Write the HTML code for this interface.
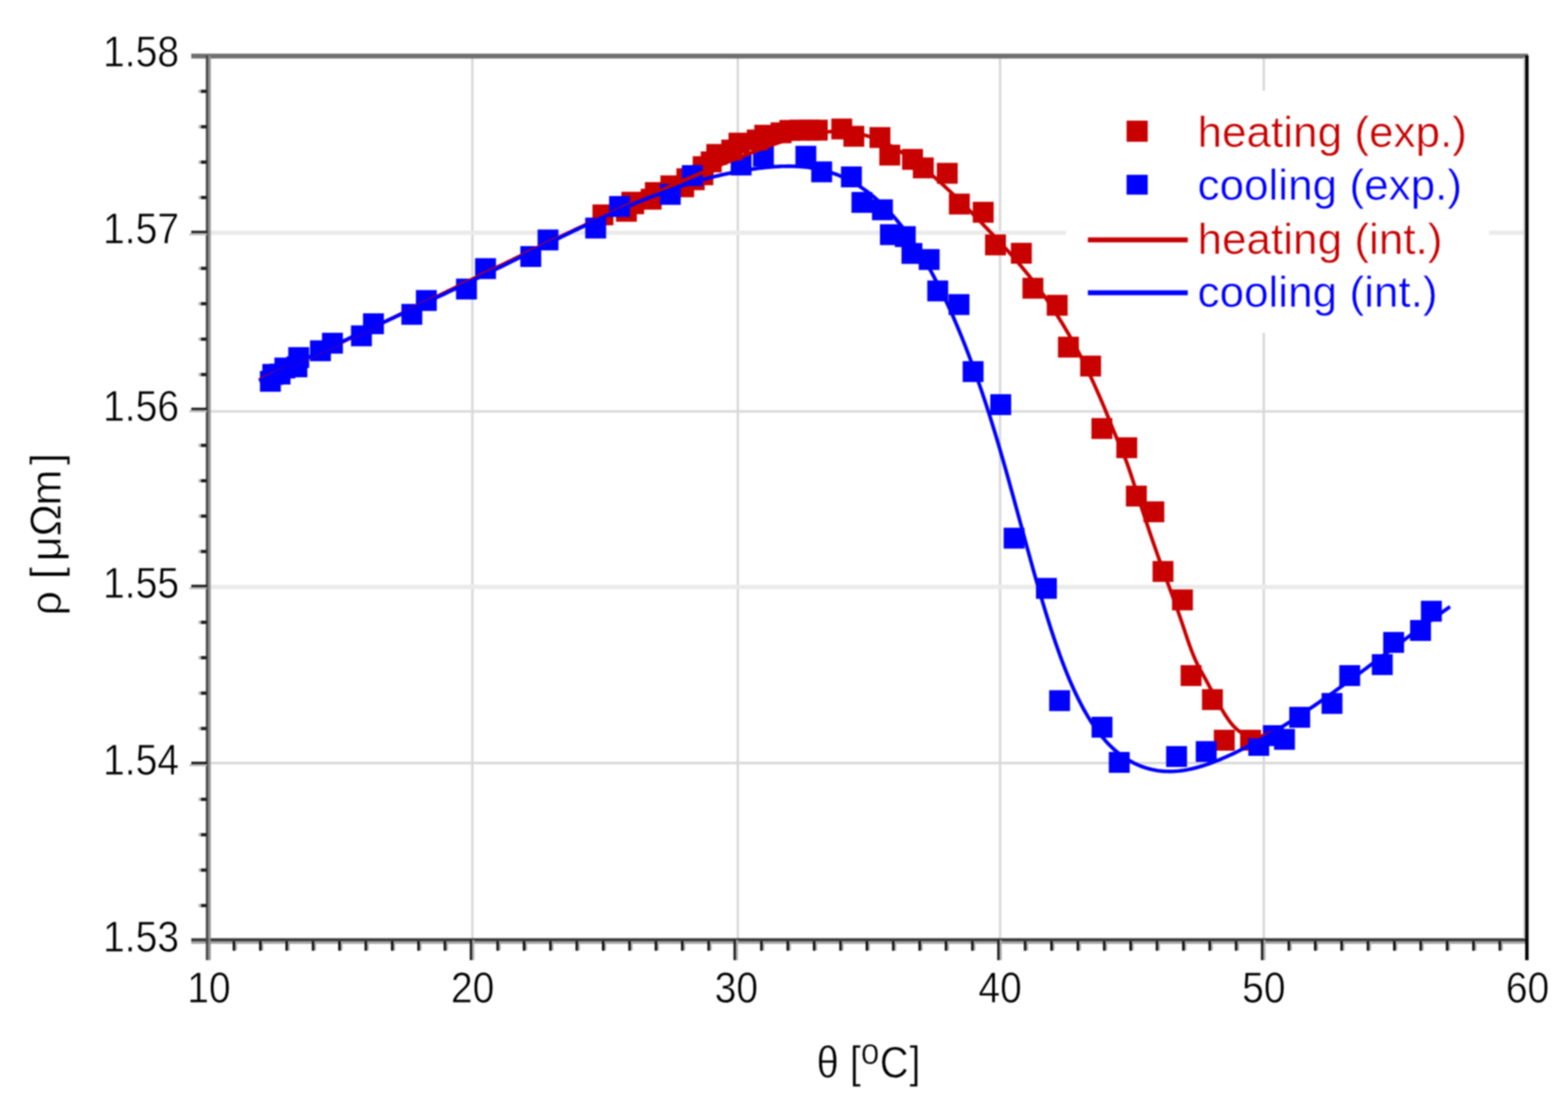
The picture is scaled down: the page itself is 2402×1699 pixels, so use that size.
<!DOCTYPE html>
<html lang="en"><head><meta charset="utf-8"><title>Resistivity vs temperature</title>
<style>
html,body{margin:0;padding:0;background:#fff;}
body{width:2402px;height:1699px;overflow:hidden;}
svg{display:block;}
</style></head><body>
<svg width="2402" height="1699" viewBox="0 0 2402 1699">
<defs><filter id="soft" color-interpolation-filters="sRGB" x="0" y="0" width="2402" height="1699" filterUnits="userSpaceOnUse"><feGaussianBlur stdDeviation="1.1"/></filter></defs>
<rect width="2402" height="1699" fill="#fff"/>
<g filter="url(#soft)">
<rect width="2402" height="1699" fill="#fff"/>
<rect x="721.7" y="88" width="3.8" height="1350" fill="#d9d9d9"/>
<rect x="1128.4" y="88" width="3.8" height="1350" fill="#d9d9d9"/>
<rect x="1530.0" y="88" width="3.8" height="1350" fill="#d9d9d9"/>
<rect x="1934.1" y="88" width="3.8" height="1350" fill="#d9d9d9"/>
<rect x="322" y="353.3" width="2014" height="6.6" fill="#ebebeb"/>
<rect x="322" y="628.4" width="2014" height="3.8" fill="#d9d9d9"/>
<rect x="322" y="896.0" width="2014" height="6.6" fill="#ebebeb"/>
<rect x="322" y="1167.1" width="2014" height="3.8" fill="#d9d9d9"/>
<rect x="1633" y="139" width="648" height="371" fill="#fff"/>
<g id="axes">
<rect x="293" y="82.2" width="2048" height="7.4" fill="#6f6f6f"/>
<rect x="293" y="1437.4" width="2048" height="5" fill="#3a3a3a"/>
<rect x="293" y="1442.4" width="2048" height="3.6" fill="#a4a4a4"/>
<rect x="315.3" y="85" width="4" height="1386" fill="#484848"/>
<rect x="319.3" y="85" width="3.5" height="1386" fill="#909090"/>
<rect x="2333.6" y="88" width="3.4" height="1350" fill="#cfcfcf"/>
<rect x="2336.4" y="85" width="5.2" height="1386" fill="#000"/>
<rect x="307.5" y="137.4" width="9" height="5" fill="#1c1c1c"/>
<rect x="304" y="137.4" width="4" height="5" fill="#bbb"/>
<rect x="307.5" y="191.7" width="9" height="5" fill="#1c1c1c"/>
<rect x="304" y="191.7" width="4" height="5" fill="#bbb"/>
<rect x="307.5" y="245.9" width="9" height="5" fill="#1c1c1c"/>
<rect x="304" y="245.9" width="4" height="5" fill="#bbb"/>
<rect x="307.5" y="300.1" width="9" height="5" fill="#1c1c1c"/>
<rect x="304" y="300.1" width="4" height="5" fill="#bbb"/>
<rect x="293" y="353.5" width="24" height="4" fill="#1e1e1e"/>
<rect x="290" y="357.5" width="27" height="3" fill="#bdbdbd"/>
<rect x="307.5" y="408.6" width="9" height="5" fill="#1c1c1c"/>
<rect x="304" y="408.6" width="4" height="5" fill="#bbb"/>
<rect x="307.5" y="462.8" width="9" height="5" fill="#1c1c1c"/>
<rect x="304" y="462.8" width="4" height="5" fill="#bbb"/>
<rect x="307.5" y="517.1" width="9" height="5" fill="#1c1c1c"/>
<rect x="304" y="517.1" width="4" height="5" fill="#bbb"/>
<rect x="307.5" y="571.3" width="9" height="5" fill="#1c1c1c"/>
<rect x="304" y="571.3" width="4" height="5" fill="#bbb"/>
<rect x="293" y="624.6" width="24" height="4" fill="#1e1e1e"/>
<rect x="290" y="628.6" width="27" height="3" fill="#bdbdbd"/>
<rect x="307.5" y="679.8" width="9" height="5" fill="#1c1c1c"/>
<rect x="304" y="679.8" width="4" height="5" fill="#bbb"/>
<rect x="307.5" y="734.0" width="9" height="5" fill="#1c1c1c"/>
<rect x="304" y="734.0" width="4" height="5" fill="#bbb"/>
<rect x="307.5" y="788.2" width="9" height="5" fill="#1c1c1c"/>
<rect x="304" y="788.2" width="4" height="5" fill="#bbb"/>
<rect x="307.5" y="842.4" width="9" height="5" fill="#1c1c1c"/>
<rect x="304" y="842.4" width="4" height="5" fill="#bbb"/>
<rect x="293" y="895.8" width="24" height="4" fill="#1e1e1e"/>
<rect x="290" y="899.8" width="27" height="3" fill="#bdbdbd"/>
<rect x="307.5" y="950.9" width="9" height="5" fill="#1c1c1c"/>
<rect x="304" y="950.9" width="4" height="5" fill="#bbb"/>
<rect x="307.5" y="1005.1" width="9" height="5" fill="#1c1c1c"/>
<rect x="304" y="1005.1" width="4" height="5" fill="#bbb"/>
<rect x="307.5" y="1059.4" width="9" height="5" fill="#1c1c1c"/>
<rect x="304" y="1059.4" width="4" height="5" fill="#bbb"/>
<rect x="307.5" y="1113.6" width="9" height="5" fill="#1c1c1c"/>
<rect x="304" y="1113.6" width="4" height="5" fill="#bbb"/>
<rect x="293" y="1166.9" width="24" height="4" fill="#1e1e1e"/>
<rect x="290" y="1170.9" width="27" height="3" fill="#bdbdbd"/>
<rect x="307.5" y="1222.1" width="9" height="5" fill="#1c1c1c"/>
<rect x="304" y="1222.1" width="4" height="5" fill="#bbb"/>
<rect x="307.5" y="1276.3" width="9" height="5" fill="#1c1c1c"/>
<rect x="304" y="1276.3" width="4" height="5" fill="#bbb"/>
<rect x="307.5" y="1330.5" width="9" height="5" fill="#1c1c1c"/>
<rect x="304" y="1330.5" width="4" height="5" fill="#bbb"/>
<rect x="307.5" y="1384.8" width="9" height="5" fill="#1c1c1c"/>
<rect x="304" y="1384.8" width="4" height="5" fill="#bbb"/>
<rect x="356.4" y="1442" width="4.2" height="14.5" fill="#141414"/>
<rect x="360.4" y="1442" width="2.6" height="14" fill="#aaa"/>
<rect x="396.8" y="1442" width="4.2" height="14.5" fill="#141414"/>
<rect x="400.8" y="1442" width="2.6" height="14" fill="#aaa"/>
<rect x="437.2" y="1442" width="4.2" height="14.5" fill="#141414"/>
<rect x="441.2" y="1442" width="2.6" height="14" fill="#aaa"/>
<rect x="477.6" y="1442" width="4.2" height="14.5" fill="#141414"/>
<rect x="481.6" y="1442" width="2.6" height="14" fill="#aaa"/>
<rect x="518.0" y="1442" width="4.2" height="14.5" fill="#141414"/>
<rect x="522.0" y="1442" width="2.6" height="14" fill="#aaa"/>
<rect x="558.4" y="1442" width="4.2" height="14.5" fill="#141414"/>
<rect x="562.4" y="1442" width="2.6" height="14" fill="#aaa"/>
<rect x="598.8" y="1442" width="4.2" height="14.5" fill="#141414"/>
<rect x="602.8" y="1442" width="2.6" height="14" fill="#aaa"/>
<rect x="639.2" y="1442" width="4.2" height="14.5" fill="#141414"/>
<rect x="643.2" y="1442" width="2.6" height="14" fill="#aaa"/>
<rect x="679.6" y="1442" width="4.2" height="14.5" fill="#141414"/>
<rect x="683.6" y="1442" width="2.6" height="14" fill="#aaa"/>
<rect x="719.6" y="1440" width="4" height="31" fill="#1e1e1e"/>
<rect x="723.6" y="1440" width="3" height="31" fill="#b0b0b0"/>
<rect x="760.4" y="1442" width="4.2" height="14.5" fill="#141414"/>
<rect x="764.4" y="1442" width="2.6" height="14" fill="#aaa"/>
<rect x="800.8" y="1442" width="4.2" height="14.5" fill="#141414"/>
<rect x="804.8" y="1442" width="2.6" height="14" fill="#aaa"/>
<rect x="841.2" y="1442" width="4.2" height="14.5" fill="#141414"/>
<rect x="845.2" y="1442" width="2.6" height="14" fill="#aaa"/>
<rect x="881.6" y="1442" width="4.2" height="14.5" fill="#141414"/>
<rect x="885.6" y="1442" width="2.6" height="14" fill="#aaa"/>
<rect x="922.0" y="1442" width="4.2" height="14.5" fill="#141414"/>
<rect x="926.0" y="1442" width="2.6" height="14" fill="#aaa"/>
<rect x="962.4" y="1442" width="4.2" height="14.5" fill="#141414"/>
<rect x="966.4" y="1442" width="2.6" height="14" fill="#aaa"/>
<rect x="1002.8" y="1442" width="4.2" height="14.5" fill="#141414"/>
<rect x="1006.8" y="1442" width="2.6" height="14" fill="#aaa"/>
<rect x="1043.2" y="1442" width="4.2" height="14.5" fill="#141414"/>
<rect x="1047.2" y="1442" width="2.6" height="14" fill="#aaa"/>
<rect x="1083.6" y="1442" width="4.2" height="14.5" fill="#141414"/>
<rect x="1087.6" y="1442" width="2.6" height="14" fill="#aaa"/>
<rect x="1123.6" y="1440" width="4" height="31" fill="#1e1e1e"/>
<rect x="1127.6" y="1440" width="3" height="31" fill="#b0b0b0"/>
<rect x="1164.4" y="1442" width="4.2" height="14.5" fill="#141414"/>
<rect x="1168.4" y="1442" width="2.6" height="14" fill="#aaa"/>
<rect x="1204.8" y="1442" width="4.2" height="14.5" fill="#141414"/>
<rect x="1208.8" y="1442" width="2.6" height="14" fill="#aaa"/>
<rect x="1245.2" y="1442" width="4.2" height="14.5" fill="#141414"/>
<rect x="1249.2" y="1442" width="2.6" height="14" fill="#aaa"/>
<rect x="1285.6" y="1442" width="4.2" height="14.5" fill="#141414"/>
<rect x="1289.6" y="1442" width="2.6" height="14" fill="#aaa"/>
<rect x="1326.0" y="1442" width="4.2" height="14.5" fill="#141414"/>
<rect x="1330.0" y="1442" width="2.6" height="14" fill="#aaa"/>
<rect x="1366.4" y="1442" width="4.2" height="14.5" fill="#141414"/>
<rect x="1370.4" y="1442" width="2.6" height="14" fill="#aaa"/>
<rect x="1406.8" y="1442" width="4.2" height="14.5" fill="#141414"/>
<rect x="1410.8" y="1442" width="2.6" height="14" fill="#aaa"/>
<rect x="1447.2" y="1442" width="4.2" height="14.5" fill="#141414"/>
<rect x="1451.2" y="1442" width="2.6" height="14" fill="#aaa"/>
<rect x="1487.6" y="1442" width="4.2" height="14.5" fill="#141414"/>
<rect x="1491.6" y="1442" width="2.6" height="14" fill="#aaa"/>
<rect x="1527.6" y="1440" width="4" height="31" fill="#1e1e1e"/>
<rect x="1531.6" y="1440" width="3" height="31" fill="#b0b0b0"/>
<rect x="1568.4" y="1442" width="4.2" height="14.5" fill="#141414"/>
<rect x="1572.4" y="1442" width="2.6" height="14" fill="#aaa"/>
<rect x="1608.8" y="1442" width="4.2" height="14.5" fill="#141414"/>
<rect x="1612.8" y="1442" width="2.6" height="14" fill="#aaa"/>
<rect x="1649.2" y="1442" width="4.2" height="14.5" fill="#141414"/>
<rect x="1653.2" y="1442" width="2.6" height="14" fill="#aaa"/>
<rect x="1689.6" y="1442" width="4.2" height="14.5" fill="#141414"/>
<rect x="1693.6" y="1442" width="2.6" height="14" fill="#aaa"/>
<rect x="1730.0" y="1442" width="4.2" height="14.5" fill="#141414"/>
<rect x="1734.0" y="1442" width="2.6" height="14" fill="#aaa"/>
<rect x="1770.4" y="1442" width="4.2" height="14.5" fill="#141414"/>
<rect x="1774.4" y="1442" width="2.6" height="14" fill="#aaa"/>
<rect x="1810.8" y="1442" width="4.2" height="14.5" fill="#141414"/>
<rect x="1814.8" y="1442" width="2.6" height="14" fill="#aaa"/>
<rect x="1851.2" y="1442" width="4.2" height="14.5" fill="#141414"/>
<rect x="1855.2" y="1442" width="2.6" height="14" fill="#aaa"/>
<rect x="1891.6" y="1442" width="4.2" height="14.5" fill="#141414"/>
<rect x="1895.6" y="1442" width="2.6" height="14" fill="#aaa"/>
<rect x="1931.6" y="1440" width="4" height="31" fill="#1e1e1e"/>
<rect x="1935.6" y="1440" width="3" height="31" fill="#b0b0b0"/>
<rect x="1972.4" y="1442" width="4.2" height="14.5" fill="#141414"/>
<rect x="1976.4" y="1442" width="2.6" height="14" fill="#aaa"/>
<rect x="2012.8" y="1442" width="4.2" height="14.5" fill="#141414"/>
<rect x="2016.8" y="1442" width="2.6" height="14" fill="#aaa"/>
<rect x="2053.2" y="1442" width="4.2" height="14.5" fill="#141414"/>
<rect x="2057.2" y="1442" width="2.6" height="14" fill="#aaa"/>
<rect x="2093.6" y="1442" width="4.2" height="14.5" fill="#141414"/>
<rect x="2097.6" y="1442" width="2.6" height="14" fill="#aaa"/>
<rect x="2134.0" y="1442" width="4.2" height="14.5" fill="#141414"/>
<rect x="2138.0" y="1442" width="2.6" height="14" fill="#aaa"/>
<rect x="2174.4" y="1442" width="4.2" height="14.5" fill="#141414"/>
<rect x="2178.4" y="1442" width="2.6" height="14" fill="#aaa"/>
<rect x="2214.8" y="1442" width="4.2" height="14.5" fill="#141414"/>
<rect x="2218.8" y="1442" width="2.6" height="14" fill="#aaa"/>
<rect x="2255.2" y="1442" width="4.2" height="14.5" fill="#141414"/>
<rect x="2259.2" y="1442" width="2.6" height="14" fill="#aaa"/>
<rect x="2295.6" y="1442" width="4.2" height="14.5" fill="#141414"/>
<rect x="2299.6" y="1442" width="2.6" height="14" fill="#aaa"/>
</g>
<g fill="#0000ff"><rect x="1119.3" y="236.8" width="32.0" height="32.0"/><rect x="1153.5" y="223.3" width="32.0" height="32.0"/></g>
<g fill="#c80000"><rect x="907.6" y="313.2" width="32.0" height="32.0"/><rect x="943.6" y="307.7" width="32.0" height="32.0"/><rect x="954.7" y="296.2" width="32.0" height="32.0"/><rect x="951.9" y="293.8" width="32.0" height="32.0"/><rect x="981.5" y="289.2" width="32.0" height="32.0"/><rect x="987.9" y="279.0" width="32.0" height="32.0"/><rect x="1011.7" y="268.7" width="32.0" height="32.0"/><rect x="1031.3" y="270.2" width="32.0" height="32.0"/><rect x="1036.2" y="257.8" width="32.0" height="32.0"/><rect x="1047.5" y="259.4" width="32.0" height="32.0"/><rect x="1060.7" y="251.8" width="32.0" height="32.0"/><rect x="1061.2" y="239.3" width="32.0" height="32.0"/><rect x="1073.5" y="232.0" width="32.0" height="32.0"/><rect x="1082.0" y="220.6" width="32.0" height="32.0"/><rect x="1105.0" y="213.9" width="32.0" height="32.0"/><rect x="1116.0" y="203.3" width="32.0" height="32.0"/><rect x="1144.0" y="198.5" width="32.0" height="32.0"/><rect x="1155.5" y="191.2" width="32.0" height="32.0"/><rect x="1180.5" y="187.5" width="32.0" height="32.0"/><rect x="1194.0" y="183.8" width="32.0" height="32.0"/><rect x="1209.0" y="183.4" width="32.0" height="32.0"/><rect x="1224.0" y="183.4" width="32.0" height="32.0"/><rect x="1236.0" y="183.4" width="32.0" height="32.0"/><rect x="1273.5" y="181.6" width="32.0" height="32.0"/><rect x="1292.0" y="192.8" width="32.0" height="32.0"/><rect x="1332.0" y="194.7" width="32.0" height="32.0"/><rect x="1347.0" y="221.6" width="32.0" height="32.0"/><rect x="1381.9" y="228.2" width="32.0" height="32.0"/><rect x="1398.4" y="241.2" width="32.0" height="32.0"/><rect x="1435.1" y="249.5" width="32.0" height="32.0"/><rect x="1453.6" y="296.6" width="32.0" height="32.0"/><rect x="1490.2" y="309.2" width="32.0" height="32.0"/><rect x="1509.0" y="359.2" width="32.0" height="32.0"/><rect x="1548.6" y="372.0" width="32.0" height="32.0"/><rect x="1566.3" y="425.6" width="32.0" height="32.0"/><rect x="1603.5" y="451.7" width="32.0" height="32.0"/><rect x="1620.7" y="515.8" width="32.0" height="32.0"/><rect x="1654.7" y="544.8" width="32.0" height="32.0"/><rect x="1672.0" y="640.5" width="32.0" height="32.0"/><rect x="1710.1" y="669.9" width="32.0" height="32.0"/><rect x="1724.8" y="744.0" width="32.0" height="32.0"/><rect x="1751.6" y="768.1" width="32.0" height="32.0"/><rect x="1765.6" y="859.5" width="32.0" height="32.0"/><rect x="1795.4" y="903.1" width="32.0" height="32.0"/><rect x="1808.6" y="1019.0" width="32.0" height="32.0"/><rect x="1841.3" y="1055.8" width="32.0" height="32.0"/><rect x="1859.5" y="1118.0" width="32.0" height="32.0"/><rect x="1899.7" y="1118.0" width="32.0" height="32.0"/></g>
<g fill="#0000ff"><rect x="398.2" y="568.2" width="32.0" height="32.0"/><rect x="401.9" y="557.6" width="32.0" height="32.0"/><rect x="413.0" y="557.1" width="32.0" height="32.0"/><rect x="420.4" y="547.8" width="32.0" height="32.0"/><rect x="438.8" y="546.0" width="32.0" height="32.0"/><rect x="441.6" y="531.8" width="32.0" height="32.0"/><rect x="474.9" y="521.4" width="32.0" height="32.0"/><rect x="493.3" y="509.8" width="32.0" height="32.0"/><rect x="537.7" y="498.5" width="32.0" height="32.0"/><rect x="556.1" y="480.0" width="32.0" height="32.0"/><rect x="614.9" y="465.6" width="32.0" height="32.0"/><rect x="637.1" y="444.4" width="32.0" height="32.0"/><rect x="698.6" y="426.8" width="32.0" height="32.0"/><rect x="727.8" y="395.5" width="32.0" height="32.0"/><rect x="797.1" y="377.0" width="32.0" height="32.0"/><rect x="823.5" y="351.6" width="32.0" height="32.0"/><rect x="896.5" y="333.4" width="32.0" height="32.0"/><rect x="933.1" y="300.3" width="32.0" height="32.0"/><rect x="1010.8" y="281.8" width="32.0" height="32.0"/><rect x="1044.5" y="253.0" width="32.0" height="32.0"/><rect x="1218.5" y="223.4" width="32.0" height="32.0"/><rect x="1242.7" y="247.3" width="32.0" height="32.0"/><rect x="1288.3" y="255.0" width="32.0" height="32.0"/><rect x="1304.4" y="294.1" width="32.0" height="32.0"/><rect x="1335.8" y="305.4" width="32.0" height="32.0"/><rect x="1348.0" y="343.5" width="32.0" height="32.0"/><rect x="1370.8" y="346.5" width="32.0" height="32.0"/><rect x="1381.0" y="372.3" width="32.0" height="32.0"/><rect x="1407.4" y="381.6" width="32.0" height="32.0"/><rect x="1420.5" y="429.7" width="32.0" height="32.0"/><rect x="1453.1" y="450.6" width="32.0" height="32.0"/><rect x="1474.7" y="553.3" width="32.0" height="32.0"/><rect x="1517.0" y="603.9" width="32.0" height="32.0"/><rect x="1537.5" y="808.5" width="32.0" height="32.0"/><rect x="1587.0" y="885.4" width="32.0" height="32.0"/><rect x="1607.2" y="1057.4" width="32.0" height="32.0"/><rect x="1672.2" y="1098.1" width="32.0" height="32.0"/><rect x="1698.6" y="1152.0" width="32.0" height="32.0"/><rect x="1786.4" y="1143.0" width="32.0" height="32.0"/><rect x="1831.8" y="1135.4" width="32.0" height="32.0"/><rect x="1912.3" y="1126.0" width="32.0" height="32.0"/><rect x="1934.7" y="1111.0" width="32.0" height="32.0"/><rect x="1951.7" y="1116.7" width="32.0" height="32.0"/><rect x="1975.0" y="1082.9" width="32.0" height="32.0"/><rect x="2024.5" y="1061.7" width="32.0" height="32.0"/><rect x="2051.6" y="1019.0" width="32.0" height="32.0"/><rect x="2101.5" y="1002.2" width="32.0" height="32.0"/><rect x="2118.9" y="968.2" width="32.0" height="32.0"/><rect x="2160.1" y="949.9" width="32.0" height="32.0"/><rect x="2176.7" y="920.4" width="32.0" height="32.0"/></g>
<path d="M397.0,581.8 L400.0,580.5 L403.0,579.2 L406.0,577.9 L409.0,576.5 L412.0,575.2 L415.0,573.9 L418.0,572.6 L421.0,571.2 L424.0,569.9 L427.0,568.6 L430.0,567.2 L433.0,565.9 L436.0,564.5 L439.0,563.2 L442.0,561.8 L445.0,560.5 L448.0,559.1 L451.0,557.8 L454.0,556.4 L457.0,555.0 L460.0,553.7 L463.0,552.3 L466.0,550.9 L469.0,549.6 L472.0,548.2 L475.0,546.8 L478.0,545.4 L481.0,544.0 L484.0,542.7 L487.0,541.3 L490.0,539.9 L493.0,538.5 L496.0,537.1 L499.0,535.7 L502.0,534.3 L505.0,532.9 L508.0,531.5 L511.0,530.1 L514.0,528.7 L517.0,527.3 L520.0,525.9 L523.0,524.5 L526.0,523.1 L529.0,521.7 L532.0,520.3 L535.0,518.8 L538.0,517.4 L541.0,516.0 L544.0,514.6 L547.0,513.2 L550.0,511.7 L553.0,510.3 L556.0,508.9 L559.0,507.5 L562.0,506.0 L565.0,504.6 L568.0,503.2 L571.0,501.7 L574.0,500.3 L577.0,498.9 L580.0,497.4 L583.0,496.0 L586.0,494.6 L589.0,493.1 L592.0,491.7 L595.0,490.2 L598.0,488.8 L601.0,487.4 L604.0,485.9 L607.0,484.5 L610.0,483.0 L613.0,481.6 L616.0,480.1 L619.0,478.7 L622.0,477.2 L625.0,475.8 L628.0,474.3 L631.0,472.9 L634.0,471.4 L637.0,470.0 L640.0,468.5 L643.0,467.0 L646.0,465.6 L649.0,464.1 L652.0,462.7 L655.0,461.2 L658.0,459.8 L661.0,458.3 L664.0,456.8 L667.0,455.4 L670.0,453.9 L673.0,452.5 L676.0,451.0 L679.0,449.5 L682.0,448.1 L685.0,446.6 L688.0,445.1 L691.0,443.7 L694.0,442.2 L697.0,440.8 L700.0,439.3 L703.0,437.8 L706.0,436.4 L709.0,434.9 L712.0,433.4 L715.0,432.0 L718.0,430.5 L721.0,429.1 L724.0,427.6 L727.0,426.1 L730.0,424.7 L733.0,423.2 L736.0,421.7 L739.0,420.3 L742.0,418.8 L745.0,417.4 L748.0,415.9 L751.0,414.4 L754.0,413.0 L757.0,411.5 L760.0,410.1 L763.0,408.6 L766.0,407.1 L769.0,405.7 L772.0,404.2 L775.0,402.8 L778.0,401.3 L781.0,399.9 L784.0,398.4 L787.0,396.9 L790.0,395.5 L793.0,394.0 L796.0,392.6 L799.0,391.1 L802.0,389.7 L805.0,388.2 L808.0,386.8 L811.0,385.3 L814.0,383.9 L817.0,382.4 L820.0,381.0 L823.0,379.6 L826.0,378.1 L829.0,376.7 L832.0,375.2 L835.0,373.8 L838.0,372.3 L841.0,370.9 L844.0,369.5 L847.0,368.0 L850.0,366.6 L853.0,365.2 L856.0,363.7 L859.0,362.3 L862.0,360.9 L865.0,359.5 L868.0,358.0 L871.0,356.6 L874.0,355.2 L877.0,353.8 L880.0,352.3 L883.0,350.9 L886.0,349.5 L889.0,348.1 L892.0,346.7 L895.0,345.3 L898.0,343.9 L901.0,342.4 L904.0,341.0 L907.0,339.6 L910.0,338.2 L913.0,336.8 L916.0,335.4 L919.0,334.0 L922.0,332.6 L925.0,331.2 L928.0,329.9 L931.0,328.5 L934.0,327.1 L937.0,325.7 L940.0,324.3 L943.0,322.9 L946.0,321.5 L949.0,320.2 L952.0,318.8 L955.0,317.4 L958.0,316.1 L961.0,314.7 L964.0,313.3 L967.0,312.0 L970.0,310.6 L973.0,309.2 L976.0,307.9 L979.0,306.5 L982.0,305.2 L985.0,303.8 L988.0,302.5 L991.0,301.1 L994.0,299.8 L997.0,298.5 L1000.0,297.1 L1003.0,295.8 L1006.0,294.5 L1009.0,293.1 L1012.0,291.8 L1015.0,290.5 L1018.0,289.2 L1021.0,287.8 L1024.0,286.5 L1027.0,285.2 L1030.0,283.9 L1033.0,282.6 L1036.0,281.3 L1039.0,280.0 L1042.0,278.7 L1045.0,277.4 L1048.0,276.1 L1051.0,274.8 L1054.0,273.6 L1057.0,272.3 L1060.0,271.0 L1063.0,269.7 L1066.0,268.5 L1069.0,267.2 L1072.0,265.9 L1075.0,264.7 L1078.0,263.4 L1081.0,262.2 L1084.0,260.9 L1087.0,259.7 L1090.0,258.4 L1093.0,257.2 L1096.0,255.9 L1099.0,254.7 L1102.0,253.5 L1105.0,252.2 L1108.0,251.0 L1111.0,249.8 L1114.0,248.6 L1117.0,247.4 L1120.0,246.2 L1123.0,245.0 L1126.0,243.8 L1129.0,242.6 L1132.0,241.4 L1135.0,240.2 L1138.0,239.0 L1141.0,237.8 L1144.0,236.6 L1147.0,235.5 L1150.0,234.3 L1153.0,233.1 L1156.0,232.0 L1159.0,230.8 L1162.0,229.7 L1165.0,228.5 L1168.0,227.4 L1171.0,226.3 L1174.0,225.2 L1177.0,224.1 L1180.0,223.0 L1183.0,221.9 L1186.0,220.9 L1189.0,219.8 L1192.0,218.8 L1195.0,217.8 L1198.0,216.8 L1201.0,215.9 L1204.0,214.9 L1207.0,214.0 L1210.0,213.1 L1213.0,212.2 L1216.0,211.4 L1219.0,210.6 L1222.0,209.8 L1225.0,209.0 L1228.0,208.3 L1231.0,207.6 L1234.0,206.9 L1237.0,206.3 L1240.0,205.7 L1243.0,205.1 L1246.0,204.6 L1249.0,204.1 L1252.0,203.6 L1255.0,203.2 L1258.0,202.8 L1261.0,202.5 L1264.0,202.2 L1267.0,202.0 L1270.0,201.8 L1273.0,201.6 L1276.0,201.5 L1279.0,201.4 L1282.0,201.4 L1285.0,201.4 L1288.0,201.5 L1291.0,201.7 L1294.0,201.9 L1297.0,202.1 L1300.0,202.4 L1303.0,202.8 L1306.0,203.2 L1309.0,203.6 L1312.0,204.2 L1315.0,204.8 L1318.0,205.4 L1321.0,206.1 L1324.0,206.9 L1327.0,207.7 L1330.0,208.6 L1333.0,209.6 L1336.0,210.6 L1339.0,211.7 L1342.0,212.9 L1345.0,214.1 L1348.0,215.4 L1351.0,216.7 L1354.0,218.1 L1357.0,219.6 L1360.0,221.1 L1363.0,222.7 L1366.0,224.3 L1369.0,226.0 L1372.0,227.7 L1375.0,229.5 L1378.0,231.3 L1381.0,233.2 L1384.0,235.2 L1387.0,237.1 L1390.0,239.2 L1393.0,241.2 L1396.0,243.4 L1399.0,245.5 L1402.0,247.7 L1405.0,250.0 L1408.0,252.3 L1411.0,254.6 L1414.0,257.0 L1417.0,259.4 L1420.0,261.8 L1423.0,264.3 L1426.0,266.8 L1429.0,269.4 L1432.0,272.0 L1435.0,274.6 L1438.0,277.3 L1441.0,280.0 L1444.0,282.7 L1447.0,285.4 L1450.0,288.2 L1453.0,291.0 L1456.0,293.8 L1459.0,296.7 L1462.0,299.5 L1465.0,302.4 L1468.0,305.4 L1471.0,308.3 L1474.0,311.3 L1477.0,314.2 L1480.0,317.2 L1483.0,320.3 L1486.0,323.3 L1489.0,326.4 L1492.0,329.4 L1495.0,332.5 L1498.0,335.6 L1501.0,338.7 L1504.0,341.8 L1507.0,345.0 L1510.0,348.1 L1513.0,351.2 L1516.0,354.4 L1519.0,357.5 L1522.0,360.7 L1525.0,363.9 L1528.0,367.1 L1531.0,370.3 L1534.0,373.6 L1537.0,376.8 L1540.0,380.1 L1543.0,383.4 L1546.0,386.8 L1549.0,390.1 L1552.0,393.5 L1555.0,397.0 L1558.0,400.4 L1561.0,403.9 L1564.0,407.5 L1567.0,411.1 L1570.0,414.7 L1573.0,418.4 L1576.0,422.1 L1579.0,425.9 L1582.0,429.7 L1585.0,433.6 L1588.0,437.6 L1591.0,441.6 L1594.0,445.6 L1597.0,449.8 L1600.0,454.0 L1603.0,458.2 L1606.0,462.6 L1609.0,467.0 L1612.0,471.5 L1615.0,476.0 L1618.0,480.6 L1621.0,485.4 L1624.0,490.2 L1627.0,495.0 L1630.0,500.0 L1633.0,505.1 L1636.0,510.2 L1639.0,515.4 L1642.0,520.8 L1645.0,526.2 L1648.0,531.7 L1651.0,537.4 L1654.0,543.1 L1657.0,548.9 L1660.0,554.9 L1663.0,560.9 L1666.0,567.1 L1669.0,573.4 L1672.0,579.7 L1675.0,586.2 L1678.0,592.8 L1681.0,599.6 L1684.0,606.4 L1687.0,613.4 L1690.0,620.5 L1693.0,627.7 L1696.0,635.1 L1699.0,642.6 L1702.0,650.1 L1705.0,657.5 L1708.0,664.9 L1711.0,672.1 L1714.0,679.1 L1717.0,686.1 L1720.0,693.2 L1723.0,700.5 L1726.0,708.3 L1729.0,716.7 L1732.0,725.5 L1735.0,734.7 L1738.0,744.0 L1741.0,753.3 L1744.0,762.7 L1747.0,772.0 L1750.0,781.3 L1753.0,790.5 L1756.0,799.6 L1759.0,808.7 L1762.0,817.5 L1765.0,826.3 L1768.0,835.0 L1771.0,843.6 L1774.0,852.1 L1777.0,860.5 L1780.0,868.9 L1783.0,877.2 L1786.0,885.4 L1789.0,893.6 L1792.0,901.7 L1795.0,909.8 L1798.0,918.0 L1801.0,926.3 L1804.0,934.7 L1807.0,943.4 L1810.0,952.2 L1813.0,961.2 L1816.0,970.2 L1819.0,979.1 L1822.0,987.7 L1825.0,995.9 L1828.0,1003.6 L1831.0,1010.6 L1834.0,1017.0 L1837.0,1022.9 L1840.0,1028.4 L1843.0,1033.8 L1846.0,1039.2 L1849.0,1044.7 L1852.0,1050.3 L1855.0,1056.0 L1858.0,1061.7 L1861.0,1067.3 L1864.0,1072.9 L1867.0,1078.4 L1870.0,1083.8 L1873.0,1088.9 L1876.0,1093.9 L1879.0,1098.5 L1882.0,1102.9 L1885.0,1106.9 L1888.0,1110.6 L1891.0,1113.8 L1894.0,1116.7 L1897.0,1119.3 L1900.0,1121.5 L1903.0,1123.4 L1906.0,1124.9 L1909.0,1126.2 L1912.0,1127.2 L1915.0,1128.0 L1918.0,1128.5 L1921.0,1128.7 L1924.0,1128.7 L1927.0,1128.5 L1930.0,1128.1 L1933.0,1127.5 L1936.0,1126.8 L1939.0,1125.8 L1942.0,1124.8 L1945.0,1123.6 L1948.0,1122.2 L1951.0,1120.8 L1952.0,1120.3" fill="none" stroke="#c80000" stroke-width="5.6" stroke-linejoin="round"/>
<path d="M397.0,583.7 L400.0,582.2 L403.0,580.8 L406.0,579.3 L409.0,577.9 L412.0,576.4 L415.0,575.0 L418.0,573.5 L421.0,572.1 L424.0,570.6 L427.0,569.2 L430.0,567.7 L433.0,566.3 L436.0,564.9 L439.0,563.4 L442.0,562.0 L445.0,560.6 L448.0,559.1 L451.0,557.7 L454.0,556.3 L457.0,554.9 L460.0,553.4 L463.0,552.0 L466.0,550.6 L469.0,549.2 L472.0,547.8 L475.0,546.4 L478.0,544.9 L481.0,543.5 L484.0,542.1 L487.0,540.7 L490.0,539.3 L493.0,537.9 L496.0,536.5 L499.0,535.1 L502.0,533.7 L505.0,532.3 L508.0,530.9 L511.0,529.5 L514.0,528.1 L517.0,526.7 L520.0,525.3 L523.0,523.9 L526.0,522.5 L529.0,521.1 L532.0,519.7 L535.0,518.3 L538.0,516.9 L541.0,515.5 L544.0,514.1 L547.0,512.7 L550.0,511.3 L553.0,509.9 L556.0,508.5 L559.0,507.1 L562.0,505.7 L565.0,504.3 L568.0,502.9 L571.0,501.5 L574.0,500.1 L577.0,498.7 L580.0,497.3 L583.0,495.9 L586.0,494.5 L589.0,493.2 L592.0,491.8 L595.0,490.4 L598.0,489.0 L601.0,487.6 L604.0,486.2 L607.0,484.8 L610.0,483.4 L613.0,482.0 L616.0,480.6 L619.0,479.2 L622.0,477.8 L625.0,476.4 L628.0,475.0 L631.0,473.6 L634.0,472.2 L637.0,470.8 L640.0,469.4 L643.0,468.0 L646.0,466.6 L649.0,465.2 L652.0,463.8 L655.0,462.4 L658.0,461.0 L661.0,459.6 L664.0,458.2 L667.0,456.7 L670.0,455.3 L673.0,453.9 L676.0,452.5 L679.0,451.1 L682.0,449.7 L685.0,448.3 L688.0,446.8 L691.0,445.4 L694.0,444.0 L697.0,442.6 L700.0,441.2 L703.0,439.7 L706.0,438.3 L709.0,436.9 L712.0,435.4 L715.0,434.0 L718.0,432.6 L721.0,431.1 L724.0,429.7 L727.0,428.3 L730.0,426.8 L733.0,425.4 L736.0,423.9 L739.0,422.5 L742.0,421.0 L745.0,419.6 L748.0,418.1 L751.0,416.7 L754.0,415.2 L757.0,413.8 L760.0,412.3 L763.0,410.8 L766.0,409.4 L769.0,407.9 L772.0,406.4 L775.0,405.0 L778.0,403.5 L781.0,402.0 L784.0,400.5 L787.0,399.0 L790.0,397.6 L793.0,396.1 L796.0,394.6 L799.0,393.1 L802.0,391.6 L805.0,390.1 L808.0,388.7 L811.0,387.2 L814.0,385.7 L817.0,384.2 L820.0,382.7 L823.0,381.2 L826.0,379.7 L829.0,378.3 L832.0,376.8 L835.0,375.3 L838.0,373.8 L841.0,372.3 L844.0,370.9 L847.0,369.4 L850.0,367.9 L853.0,366.4 L856.0,365.0 L859.0,363.5 L862.0,362.0 L865.0,360.6 L868.0,359.1 L871.0,357.7 L874.0,356.2 L877.0,354.8 L880.0,353.3 L883.0,351.9 L886.0,350.5 L889.0,349.0 L892.0,347.6 L895.0,346.2 L898.0,344.8 L901.0,343.4 L904.0,341.9 L907.0,340.5 L910.0,339.1 L913.0,337.8 L916.0,336.4 L919.0,335.0 L922.0,333.6 L925.0,332.3 L928.0,330.9 L931.0,329.5 L934.0,328.2 L937.0,326.9 L940.0,325.5 L943.0,324.2 L946.0,322.9 L949.0,321.6 L952.0,320.3 L955.0,319.0 L958.0,317.7 L961.0,316.4 L964.0,315.1 L967.0,313.9 L970.0,312.6 L973.0,311.4 L976.0,310.2 L979.0,308.9 L982.0,307.7 L985.0,306.5 L988.0,305.3 L991.0,304.1 L994.0,303.0 L997.0,301.8 L1000.0,300.6 L1003.0,299.5 L1006.0,298.4 L1009.0,297.3 L1012.0,296.1 L1015.0,295.0 L1018.0,294.0 L1021.0,292.9 L1024.0,291.8 L1027.0,290.8 L1030.0,289.7 L1033.0,288.7 L1036.0,287.7 L1039.0,286.7 L1042.0,285.7 L1045.0,284.7 L1048.0,283.7 L1051.0,282.8 L1054.0,281.9 L1057.0,280.9 L1060.0,280.0 L1063.0,279.1 L1066.0,278.2 L1069.0,277.4 L1072.0,276.5 L1075.0,275.7 L1078.0,274.8 L1081.0,274.0 L1084.0,273.2 L1087.0,272.4 L1090.0,271.6 L1093.0,270.9 L1096.0,270.1 L1099.0,269.4 L1102.0,268.7 L1105.0,268.0 L1108.0,267.3 L1111.0,266.7 L1114.0,266.0 L1117.0,265.4 L1120.0,264.7 L1123.0,264.1 L1126.0,263.6 L1129.0,263.0 L1132.0,262.4 L1135.0,261.9 L1138.0,261.4 L1141.0,260.9 L1144.0,260.4 L1147.0,259.9 L1150.0,259.5 L1153.0,259.0 L1156.0,258.6 L1159.0,258.2 L1162.0,257.8 L1165.0,257.5 L1168.0,257.1 L1171.0,256.8 L1174.0,256.5 L1177.0,256.2 L1180.0,255.9 L1183.0,255.7 L1186.0,255.4 L1189.0,255.2 L1192.0,255.1 L1195.0,254.9 L1198.0,254.8 L1201.0,254.7 L1204.0,254.7 L1207.0,254.6 L1210.0,254.6 L1213.0,254.7 L1216.0,254.7 L1219.0,254.9 L1222.0,255.0 L1225.0,255.2 L1228.0,255.4 L1231.0,255.7 L1234.0,256.0 L1237.0,256.3 L1240.0,256.7 L1243.0,257.2 L1246.0,257.7 L1249.0,258.2 L1252.0,258.8 L1255.0,259.4 L1258.0,260.1 L1261.0,260.8 L1264.0,261.6 L1267.0,262.5 L1270.0,263.4 L1273.0,264.3 L1276.0,265.3 L1279.0,266.4 L1282.0,267.5 L1285.0,268.7 L1288.0,270.0 L1291.0,271.3 L1294.0,272.7 L1297.0,274.1 L1300.0,275.7 L1303.0,277.2 L1306.0,278.9 L1309.0,280.6 L1312.0,282.4 L1315.0,284.3 L1318.0,286.2 L1321.0,288.3 L1324.0,290.4 L1327.0,292.5 L1330.0,294.8 L1333.0,297.1 L1336.0,299.5 L1339.0,302.0 L1342.0,304.6 L1345.0,307.3 L1348.0,310.0 L1351.0,312.9 L1354.0,315.8 L1357.0,318.8 L1360.0,321.9 L1363.0,325.1 L1366.0,328.4 L1369.0,331.8 L1372.0,335.3 L1375.0,338.9 L1378.0,342.5 L1381.0,346.3 L1384.0,350.2 L1387.0,354.1 L1390.0,358.2 L1393.0,362.4 L1396.0,366.7 L1399.0,371.0 L1402.0,375.5 L1405.0,380.1 L1408.0,384.8 L1411.0,389.7 L1414.0,394.6 L1417.0,399.6 L1420.0,404.8 L1423.0,410.1 L1426.0,415.4 L1429.0,420.9 L1432.0,426.6 L1435.0,432.3 L1438.0,438.2 L1441.0,444.1 L1444.0,450.3 L1447.0,456.5 L1450.0,462.8 L1453.0,469.3 L1456.0,475.9 L1459.0,482.7 L1462.0,489.5 L1465.0,496.5 L1468.0,503.6 L1471.0,510.9 L1474.0,518.3 L1477.0,525.8 L1480.0,533.5 L1483.0,541.3 L1486.0,549.2 L1489.0,557.3 L1492.0,565.5 L1495.0,573.9 L1498.0,582.4 L1501.0,591.1 L1504.0,599.9 L1507.0,608.8 L1510.0,617.9 L1513.0,627.1 L1516.0,636.5 L1519.0,646.1 L1522.0,655.8 L1525.0,665.6 L1528.0,675.6 L1531.0,685.8 L1534.0,696.1 L1537.0,706.6 L1540.0,717.1 L1543.0,727.8 L1546.0,738.6 L1549.0,749.4 L1552.0,760.3 L1555.0,771.3 L1558.0,782.3 L1561.0,793.3 L1564.0,804.3 L1567.0,815.3 L1570.0,826.3 L1573.0,837.2 L1576.0,848.1 L1579.0,858.9 L1582.0,869.7 L1585.0,880.4 L1588.0,890.9 L1591.0,901.3 L1594.0,911.6 L1597.0,921.8 L1600.0,931.8 L1603.0,941.6 L1606.0,951.2 L1609.0,960.6 L1612.0,969.8 L1615.0,978.8 L1618.0,987.6 L1621.0,996.2 L1624.0,1004.6 L1627.0,1012.7 L1630.0,1020.6 L1633.0,1028.2 L1636.0,1035.6 L1639.0,1042.8 L1642.0,1049.7 L1645.0,1056.4 L1648.0,1062.8 L1651.0,1069.0 L1654.0,1075.0 L1657.0,1080.8 L1660.0,1086.3 L1663.0,1091.7 L1666.0,1096.8 L1669.0,1101.7 L1672.0,1106.4 L1675.0,1110.9 L1678.0,1115.3 L1681.0,1119.4 L1684.0,1123.4 L1687.0,1127.2 L1690.0,1130.8 L1693.0,1134.3 L1696.0,1137.6 L1699.0,1140.8 L1702.0,1143.7 L1705.0,1146.6 L1708.0,1149.3 L1711.0,1151.9 L1714.0,1154.3 L1717.0,1156.6 L1720.0,1158.8 L1723.0,1160.8 L1726.0,1162.8 L1729.0,1164.6 L1732.0,1166.3 L1735.0,1168.0 L1738.0,1169.5 L1741.0,1170.9 L1744.0,1172.2 L1747.0,1173.5 L1750.0,1174.6 L1753.0,1175.7 L1756.0,1176.6 L1759.0,1177.5 L1762.0,1178.3 L1765.0,1179.0 L1768.0,1179.6 L1771.0,1180.2 L1774.0,1180.7 L1777.0,1181.0 L1780.0,1181.4 L1783.0,1181.6 L1786.0,1181.8 L1789.0,1181.8 L1792.0,1181.9 L1795.0,1181.8 L1798.0,1181.7 L1801.0,1181.5 L1804.0,1181.3 L1807.0,1181.0 L1810.0,1180.6 L1813.0,1180.2 L1816.0,1179.7 L1819.0,1179.2 L1822.0,1178.6 L1825.0,1177.9 L1828.0,1177.2 L1831.0,1176.5 L1834.0,1175.7 L1837.0,1174.9 L1840.0,1174.0 L1843.0,1173.1 L1846.0,1172.1 L1849.0,1171.1 L1852.0,1170.0 L1855.0,1169.0 L1858.0,1167.8 L1861.0,1166.7 L1864.0,1165.5 L1867.0,1164.3 L1870.0,1163.1 L1873.0,1161.8 L1876.0,1160.5 L1879.0,1159.2 L1882.0,1157.8 L1885.0,1156.5 L1888.0,1155.1 L1891.0,1153.7 L1894.0,1152.2 L1897.0,1150.8 L1900.0,1149.3 L1903.0,1147.8 L1906.0,1146.3 L1909.0,1144.8 L1912.0,1143.2 L1915.0,1141.6 L1918.0,1140.0 L1921.0,1138.4 L1924.0,1136.8 L1927.0,1135.1 L1930.0,1133.5 L1933.0,1131.8 L1936.0,1130.1 L1939.0,1128.4 L1942.0,1126.6 L1945.0,1124.9 L1948.0,1123.1 L1951.0,1121.3 L1954.0,1119.5 L1957.0,1117.7 L1960.0,1115.9 L1963.0,1114.0 L1966.0,1112.2 L1969.0,1110.3 L1972.0,1108.4 L1975.0,1106.5 L1978.0,1104.6 L1981.0,1102.7 L1984.0,1100.7 L1987.0,1098.8 L1990.0,1096.8 L1993.0,1094.8 L1996.0,1092.8 L1999.0,1090.8 L2002.0,1088.8 L2005.0,1086.8 L2008.0,1084.7 L2011.0,1082.7 L2014.0,1080.6 L2017.0,1078.5 L2020.0,1076.5 L2023.0,1074.4 L2026.0,1072.3 L2029.0,1070.2 L2032.0,1068.1 L2035.0,1065.9 L2038.0,1063.8 L2041.0,1061.7 L2044.0,1059.5 L2047.0,1057.4 L2050.0,1055.2 L2053.0,1053.0 L2056.0,1050.9 L2059.0,1048.7 L2062.0,1046.5 L2065.0,1044.3 L2068.0,1042.1 L2071.0,1039.9 L2074.0,1037.7 L2077.0,1035.5 L2080.0,1033.3 L2083.0,1031.1 L2086.0,1028.9 L2089.0,1026.6 L2092.0,1024.4 L2095.0,1022.2 L2098.0,1019.9 L2101.0,1017.7 L2104.0,1015.5 L2107.0,1013.2 L2110.0,1011.0 L2113.0,1008.8 L2116.0,1006.5 L2119.0,1004.3 L2122.0,1002.0 L2125.0,999.8 L2128.0,997.5 L2131.0,995.3 L2134.0,993.1 L2137.0,990.8 L2140.0,988.6 L2143.0,986.4 L2146.0,984.1 L2149.0,981.9 L2152.0,979.7 L2155.0,977.4 L2158.0,975.2 L2161.0,973.0 L2164.0,970.8 L2167.0,968.6 L2170.0,966.4 L2173.0,964.2 L2176.0,962.0 L2179.0,959.8 L2182.0,957.6 L2185.0,955.4 L2188.0,953.2 L2191.0,951.0 L2194.0,948.9 L2197.0,946.7 L2200.0,944.6 L2203.0,942.4 L2206.0,940.3 L2209.0,938.2 L2212.0,936.0 L2215.0,933.9 L2218.0,931.8 L2221.0,929.7 L2221.4,929.5" fill="none" stroke="#0000ff" stroke-width="5.6" stroke-linejoin="round"/>
<rect x="1725.8" y="184.8" width="32.4" height="32.4" fill="#c80000"/>
<rect x="1725.8" y="267.8" width="32.4" height="30.4" fill="#0000ff"/>
<rect x="1666.5" y="363.7" width="153" height="7.6" fill="#c80000"/>
<rect x="1666.5" y="444.7" width="153" height="7.6" fill="#0000ff"/>
<g font-family="'Liberation Sans', sans-serif" font-size="67.5" stroke="#fff" stroke-width="0.7" paint-order="fill stroke">
<text x="1834.5" y="224.8" fill="#c80000">heating (exp.)</text>
<text x="1834.5" y="305.5" fill="#0000ff">cooling (exp.)</text>
<text x="1834.5" y="388.8" fill="#c80000">heating (int.)</text>
<text x="1834.5" y="469.8" fill="#0000ff">cooling (int.)</text>
</g>
<g font-family="'Liberation Sans', sans-serif" fill="#000" stroke="#fff" stroke-width="0.8" paint-order="fill stroke">
<text transform="translate(274.5,102.2) scale(1,1.110)" text-anchor="end" font-size="60.0">1.58</text>
<text transform="translate(274.5,373.4) scale(1,1.110)" text-anchor="end" font-size="60.0">1.57</text>
<text transform="translate(274.5,644.5) scale(1,1.110)" text-anchor="end" font-size="60.0">1.56</text>
<text transform="translate(274.5,915.7) scale(1,1.110)" text-anchor="end" font-size="60.0">1.55</text>
<text transform="translate(274.5,1186.8) scale(1,1.110)" text-anchor="end" font-size="60.0">1.54</text>
<text transform="translate(274.5,1458.0) scale(1,1.110)" text-anchor="end" font-size="60.0">1.53</text>
<text transform="translate(320.0,1535.8) scale(1,1.110)" text-anchor="middle" font-size="60.0">10</text>
<text transform="translate(724.0,1535.8) scale(1,1.110)" text-anchor="middle" font-size="60.0">20</text>
<text transform="translate(1128.0,1535.8) scale(1,1.110)" text-anchor="middle" font-size="60.0">30</text>
<text transform="translate(1532.0,1535.8) scale(1,1.110)" text-anchor="middle" font-size="60.0">40</text>
<text transform="translate(1936.0,1535.8) scale(1,1.110)" text-anchor="middle" font-size="60.0">50</text>
<text transform="translate(2340.0,1535.8) scale(1,1.110)" text-anchor="middle" font-size="60.0">60</text>
<text transform="translate(1251,1650.6) scale(1,1.110)" font-size="61">θ [<tspan dy="-19" font-size="51">o</tspan><tspan dy="19" dx="0.5">C</tspan><tspan dx="1.5">]</tspan></text>
<text transform="translate(93.3,943) rotate(-90)" font-size="66">ρ [<tspan dx="9">μ</tspan>Ω<tspan dx="-2">m</tspan><tspan dx="7">]</tspan></text>
</g>
</g>
</svg>
</body></html>
